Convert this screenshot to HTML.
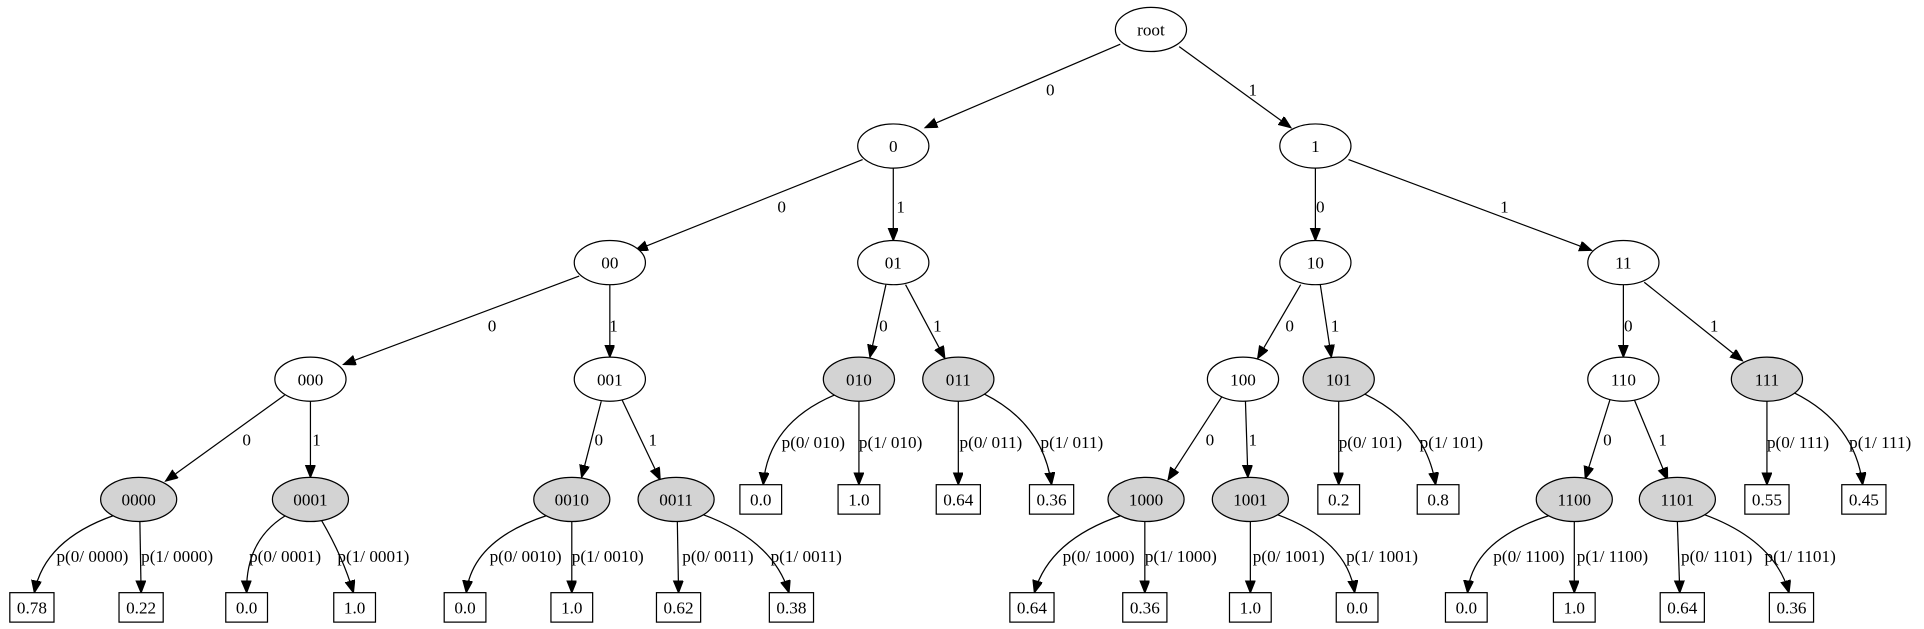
<!DOCTYPE html>
<html><head><meta charset="utf-8"><style>
html,body{margin:0;padding:0;background:#fff}
svg{display:block}
text{font-family:"Liberation Serif",serif;font-size:14px;fill:#000}
.c{text-anchor:middle}
path,line{stroke:#000;stroke-width:1;fill:none}
ellipse{stroke:#000;stroke-width:1;fill:#fff}
ellipse.g{fill:#d3d3d3}
rect{stroke:#000;stroke-width:1;fill:#fff}
</style></head><body>
<svg width="1924" height="629" viewBox="0 0 1568 512.6" xmlns="http://www.w3.org/2000/svg">
<defs><marker id="a" markerUnits="userSpaceOnUse" markerWidth="12" markerHeight="10" refX="10" refY="4" orient="auto"><path d="M0,0 L10,4 L0,8 Z" style="fill:#000;stroke:#000"/></marker></defs>
<g marker-end="url(#a)">
<line x1="913" y1="36" x2="754" y2="104"/>
<line x1="961" y1="38" x2="1052" y2="104"/>
<line x1="703" y1="130" x2="518" y2="204"/>
<line x1="728" y1="137" x2="728" y2="196"/>
<line x1="1072" y1="137" x2="1072" y2="196"/>
<line x1="1099" y1="130" x2="1297" y2="204"/>
<line x1="472" y1="225" x2="280" y2="297"/>
<line x1="497" y1="232" x2="497" y2="291"/>
<line x1="722" y1="232" x2="709" y2="291"/>
<line x1="738" y1="232" x2="770" y2="292"/>
<line x1="1060" y1="232" x2="1025" y2="292"/>
<line x1="1076" y1="232" x2="1085" y2="291"/>
<line x1="1323" y1="232" x2="1323" y2="291"/>
<line x1="1340" y1="230" x2="1420" y2="294"/>
<line x1="232" y1="322" x2="135" y2="392"/>
<line x1="253" y1="327" x2="253" y2="389"/>
<line x1="490" y1="327" x2="474" y2="389"/>
<line x1="507" y1="326" x2="538" y2="391"/>
<line x1="996" y1="323" x2="952" y2="391"/>
<line x1="1015" y1="327" x2="1017" y2="389"/>
<line x1="1312" y1="326" x2="1292" y2="390"/>
<line x1="1332" y1="326" x2="1359" y2="391"/>
<!-- level3 leaves -->
<path d="M680,322 Q626,345 622,395"/>
<path d="M700,327 L700,395"/>
<path d="M781,327 L781,395"/>
<path d="M802,321 Q850,345 857,395"/>
<path d="M1091,327 L1091,395"/>
<path d="M1112,321 Q1162,345 1170,395"/>
<path d="M1440,327 L1440,395"/>
<path d="M1462,320 Q1512,345 1518,395"/>
<!-- level4 leaves -->
<path d="M93,420 Q36,440 28,483"/>
<path d="M114,425 L115,483"/>
<path d="M233,420 Q200,440 201,483"/>
<path d="M262,424 Q280,455 288,483"/>
<path d="M446,420 Q385,440 380,483"/>
<path d="M466,425 L466,483"/>
<path d="M552,425 L553,483"/>
<path d="M572,419 Q630,440 643,483"/>
<path d="M914,420 Q855,440 843,483"/>
<path d="M933,425 L933,483"/>
<path d="M1019,425 L1019,483"/>
<path d="M1040,419 Q1098,440 1104,483"/>
<path d="M1263,420 Q1200,440 1196,483"/>
<path d="M1283,425 L1283,483"/>
<path d="M1367,425 L1369,483"/>
<path d="M1388,419 Q1446,440 1458,483"/>
</g>
<!-- edge labels -->
<g class="c">
<text x="856" y="78">0</text><text x="1021" y="78">1</text>
<text x="637" y="173">0</text><text x="734" y="173">1</text>
<text x="1076" y="173">0</text><text x="1226" y="173">1</text>
<text x="401" y="270">0</text><text x="500" y="270">1</text>
<text x="720" y="270">0</text><text x="764" y="270">1</text>
<text x="1051" y="270">0</text><text x="1088" y="270">1</text>
<text x="1327" y="270">0</text><text x="1397" y="270">1</text>
<text x="201" y="363">0</text><text x="258" y="363">1</text>
<text x="488" y="363">0</text><text x="532" y="363">1</text>
<text x="986" y="363">0</text><text x="1021" y="363">1</text>
<text x="1310" y="363">0</text><text x="1355" y="363">1</text>
</g>
<g>
<text x="637" y="365">p(0/ 010)</text><text x="700" y="365">p(1/ 010)</text>
<text x="782" y="365">p(0/ 011)</text><text x="848" y="365">p(1/ 011)</text>
<text x="1091" y="365">p(0/ 101)</text><text x="1157" y="365">p(1/ 101)</text>
<text x="1440" y="365">p(0/ 111)</text><text x="1507" y="365">p(1/ 111)</text>
<text x="46" y="458">p(0/ 0000)</text><text x="115" y="458">p(1/ 0000)</text>
<text x="203" y="458">p(0/ 0001)</text><text x="275" y="458">p(1/ 0001)</text>
<text x="399" y="458">p(0/ 0010)</text><text x="466" y="458">p(1/ 0010)</text>
<text x="556" y="458">p(0/ 0011)</text><text x="628" y="458">p(1/ 0011)</text>
<text x="866" y="458">p(0/ 1000)</text><text x="933" y="458">p(1/ 1000)</text>
<text x="1021" y="458">p(0/ 1001)</text><text x="1097" y="458">p(1/ 1001)</text>
<text x="1217" y="458">p(0/ 1100)</text><text x="1285" y="458">p(1/ 1100)</text>
<text x="1370" y="458">p(0/ 1101)</text><text x="1438" y="458">p(1/ 1101)</text>
</g>
<!-- nodes -->
<g class="c">
<ellipse cx="938" cy="24" rx="29" ry="18"/><text x="938" y="29">root</text>
<ellipse cx="728" cy="119" rx="29" ry="18"/><text x="728" y="124">0</text>
<ellipse cx="1072" cy="119" rx="29" ry="18"/><text x="1072" y="124">1</text>
<ellipse cx="497" cy="214" rx="29" ry="18"/><text x="497" y="219">00</text>
<ellipse cx="728" cy="214" rx="29" ry="18"/><text x="728" y="219">01</text>
<ellipse cx="1072" cy="214" rx="29" ry="18"/><text x="1072" y="219">10</text>
<ellipse cx="1323" cy="214" rx="29" ry="18"/><text x="1323" y="219">11</text>
<ellipse cx="253" cy="309" rx="29" ry="18"/><text x="253" y="314">000</text>
<ellipse cx="497" cy="309" rx="29" ry="18"/><text x="497" y="314">001</text>
<ellipse class="g" cx="700" cy="309" rx="29" ry="18"/><text x="700" y="314">010</text>
<ellipse class="g" cx="781" cy="309" rx="29" ry="18"/><text x="781" y="314">011</text>
<ellipse cx="1013" cy="309" rx="29" ry="18"/><text x="1013" y="314">100</text>
<ellipse class="g" cx="1091" cy="309" rx="29" ry="18"/><text x="1091" y="314">101</text>
<ellipse cx="1323" cy="309" rx="29" ry="18"/><text x="1323" y="314">110</text>
<ellipse class="g" cx="1440" cy="309" rx="29" ry="18"/><text x="1440" y="314">111</text>
<ellipse class="g" cx="113" cy="407" rx="31" ry="18"/><text x="113" y="412">0000</text>
<ellipse class="g" cx="253" cy="407" rx="31" ry="18"/><text x="253" y="412">0001</text>
<ellipse class="g" cx="466" cy="407" rx="31" ry="18"/><text x="466" y="412">0010</text>
<ellipse class="g" cx="551" cy="407" rx="31" ry="18"/><text x="551" y="412">0011</text>
<ellipse class="g" cx="934" cy="407" rx="31" ry="18"/><text x="934" y="412">1000</text>
<ellipse class="g" cx="1019" cy="407" rx="31" ry="18"/><text x="1019" y="412">1001</text>
<ellipse class="g" cx="1283" cy="407" rx="31" ry="18"/><text x="1283" y="412">1100</text>
<ellipse class="g" cx="1367" cy="407" rx="31" ry="18"/><text x="1367" y="412">1101</text>
<!-- boxes level3 -->
<rect x="603" y="395" width="34" height="24"/><text x="620" y="412">0.0</text>
<rect x="683" y="395" width="34" height="24"/><text x="700" y="412">1.0</text>
<rect x="763" y="395" width="36" height="24"/><text x="781" y="412">0.64</text>
<rect x="839" y="395" width="36" height="24"/><text x="857" y="412">0.36</text>
<rect x="1074" y="395" width="34" height="24"/><text x="1091" y="412">0.2</text>
<rect x="1155" y="395" width="34" height="24"/><text x="1172" y="412">0.8</text>
<rect x="1422" y="395" width="36" height="24"/><text x="1440" y="412">0.55</text>
<rect x="1501" y="395" width="36" height="24"/><text x="1519" y="412">0.45</text>
<!-- boxes level4 -->
<rect x="8" y="483" width="36" height="24"/><text x="26" y="500">0.78</text>
<rect x="97" y="483" width="36" height="24"/><text x="115" y="500">0.22</text>
<rect x="184" y="483" width="34" height="24"/><text x="201" y="500">0.0</text>
<rect x="272" y="483" width="34" height="24"/><text x="289" y="500">1.0</text>
<rect x="362" y="483" width="34" height="24"/><text x="379" y="500">0.0</text>
<rect x="449" y="483" width="34" height="24"/><text x="466" y="500">1.0</text>
<rect x="535" y="483" width="36" height="24"/><text x="553" y="500">0.62</text>
<rect x="627" y="483" width="36" height="24"/><text x="645" y="500">0.38</text>
<rect x="823" y="483" width="36" height="24"/><text x="841" y="500">0.64</text>
<rect x="915" y="483" width="36" height="24"/><text x="933" y="500">0.36</text>
<rect x="1002" y="483" width="34" height="24"/><text x="1019" y="500">1.0</text>
<rect x="1089" y="483" width="34" height="24"/><text x="1106" y="500">0.0</text>
<rect x="1178" y="483" width="34" height="24"/><text x="1195" y="500">0.0</text>
<rect x="1266" y="483" width="34" height="24"/><text x="1283" y="500">1.0</text>
<rect x="1353" y="483" width="36" height="24"/><text x="1371" y="500">0.64</text>
<rect x="1442" y="483" width="36" height="24"/><text x="1460" y="500">0.36</text>
</g>
</svg>
</body></html>
